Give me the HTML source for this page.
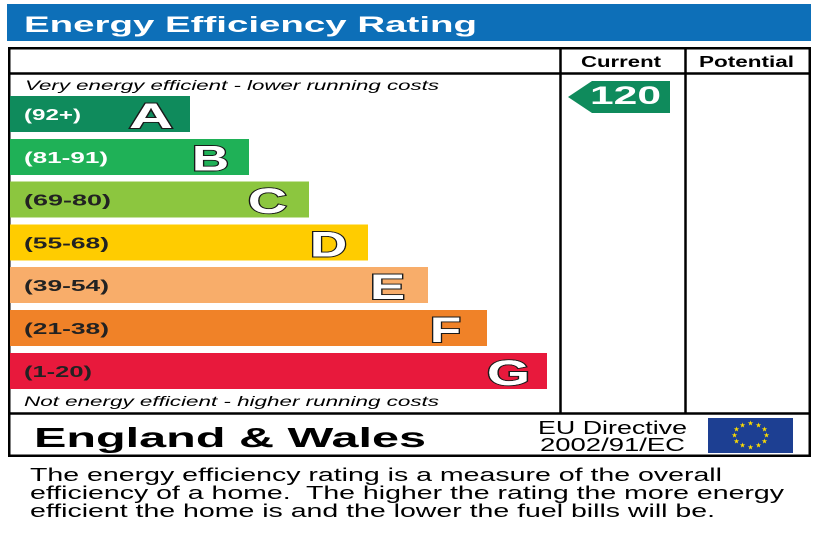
<!DOCTYPE html>
<html><head><meta charset="utf-8"><style>
html,body{margin:0;padding:0;background:#fff;}
svg{display:block;}
text{font-family:"Liberation Sans",Arial,sans-serif;}
</style></head><body>
<svg width="820" height="547" viewBox="0 0 820 547" xmlns="http://www.w3.org/2000/svg">
<rect x="0" y="0" width="820" height="547" fill="#fff"/>
<!-- Title bar -->
<rect x="7" y="4" width="804" height="37" fill="#0d6fb8"/>
<text x="24" y="32" font-size="22" font-weight="bold" fill="#fff" textLength="453" lengthAdjust="spacingAndGlyphs">Energy Efficiency Rating</text>

<!-- Main frame -->
<rect x="9.25" y="48.25" width="800.5" height="407.5" fill="none" stroke="#000" stroke-width="2.5"/>
<line x1="9" y1="73.5" x2="810" y2="73.5" stroke="#000" stroke-width="2.5"/>
<line x1="560.5" y1="48" x2="560.5" y2="413" stroke="#000" stroke-width="2.5"/>
<line x1="685.5" y1="48" x2="685.5" y2="413" stroke="#000" stroke-width="2.5"/>
<line x1="9" y1="413.5" x2="810" y2="413.5" stroke="#000" stroke-width="2.5"/>

<text x="581" y="67" font-size="16" font-weight="bold" fill="#000" textLength="80" lengthAdjust="spacingAndGlyphs">Current</text>
<text x="699" y="67" font-size="16" font-weight="bold" fill="#000" textLength="95" lengthAdjust="spacingAndGlyphs">Potential</text>

<text x="25" y="90" font-size="14" font-style="italic" fill="#000" textLength="414" lengthAdjust="spacingAndGlyphs">Very energy efficient - lower running costs</text>

<!-- Bars -->
<rect x="10" y="96" width="180" height="36" fill="#0f8b5c"/>
<rect x="10" y="139" width="239" height="36" fill="#1fb157"/>
<rect x="10" y="181.5" width="299" height="36" fill="#8cc63f"/>
<rect x="10" y="224.5" width="358" height="36" fill="#ffcc00"/>
<rect x="10" y="267" width="418" height="36" fill="#f8ad6a"/>
<rect x="10" y="310" width="477" height="36" fill="#f08228"/>
<rect x="10" y="353" width="537" height="36" fill="#e8193c"/>

<g font-size="16" font-weight="bold">
<text x="24" y="120" fill="#fff" textLength="57" lengthAdjust="spacingAndGlyphs">(92+)</text>
<text x="24" y="163" fill="#fff" textLength="84" lengthAdjust="spacingAndGlyphs">(81-91)</text>
<text x="24" y="205.5" fill="#222" textLength="87" lengthAdjust="spacingAndGlyphs">(69-80)</text>
<text x="24" y="248.5" fill="#222" textLength="85" lengthAdjust="spacingAndGlyphs">(55-68)</text>
<text x="24" y="291" fill="#222" textLength="85" lengthAdjust="spacingAndGlyphs">(39-54)</text>
<text x="24" y="334" fill="#222" textLength="85" lengthAdjust="spacingAndGlyphs">(21-38)</text>
<text x="24" y="377" fill="#222" textLength="68" lengthAdjust="spacingAndGlyphs">(1-20)</text>
</g>

<g font-size="35" font-weight="bold" fill="#fff" stroke="#1a1a1a" stroke-width="2" paint-order="stroke">
<text x="129" y="128" textLength="44" lengthAdjust="spacingAndGlyphs">A</text>
<text x="192" y="170.5" textLength="37" lengthAdjust="spacingAndGlyphs">B</text>
<text x="248" y="213" textLength="39" lengthAdjust="spacingAndGlyphs">C</text>
<text x="310" y="256.5" textLength="37" lengthAdjust="spacingAndGlyphs">D</text>
<text x="370" y="299" textLength="35" lengthAdjust="spacingAndGlyphs">E</text>
<text x="430" y="342" textLength="31" lengthAdjust="spacingAndGlyphs">F</text>
<text x="487" y="385" textLength="43" lengthAdjust="spacingAndGlyphs">G</text>
</g>
<g font-size="35" font-weight="bold" fill="#fff">
<text x="129" y="128" textLength="44" lengthAdjust="spacingAndGlyphs">A</text>
<text x="192" y="170.5" textLength="37" lengthAdjust="spacingAndGlyphs">B</text>
<text x="248" y="213" textLength="39" lengthAdjust="spacingAndGlyphs">C</text>
<text x="310" y="256.5" textLength="37" lengthAdjust="spacingAndGlyphs">D</text>
<text x="370" y="299" textLength="35" lengthAdjust="spacingAndGlyphs">E</text>
<text x="430" y="342" textLength="31" lengthAdjust="spacingAndGlyphs">F</text>
<text x="487" y="385" textLength="43" lengthAdjust="spacingAndGlyphs">G</text>
</g>

<text x="24" y="406" font-size="14" font-style="italic" fill="#000" textLength="415" lengthAdjust="spacingAndGlyphs">Not energy efficient - higher running costs</text>

<!-- Current arrow -->
<polygon points="568,97 592,81 670,81 670,113 592,113" fill="#0f8b5c"/>
<text x="590" y="104" font-size="25" font-weight="bold" fill="#fff" textLength="71" lengthAdjust="spacingAndGlyphs">120</text>

<!-- Footer row -->
<text x="34" y="447" font-size="28" font-weight="bold" fill="#000" textLength="392" lengthAdjust="spacingAndGlyphs">England &amp; Wales</text>
<text x="538" y="434" font-size="18" fill="#000" textLength="149" lengthAdjust="spacingAndGlyphs">EU Directive</text>
<text x="540" y="451" font-size="18" fill="#000" textLength="145" lengthAdjust="spacingAndGlyphs">2002/91/EC</text>

<rect x="708" y="418" width="85" height="35" fill="#1d3f92"/>
<g fill="#ffdd00" font-size="7" text-anchor="middle">
<text x="750.5" y="425.5">★</text>
<text x="758.5" y="427.5">★</text>
<text x="764.5" y="431.5">★</text>
<text x="766.5" y="437.5">★</text>
<text x="764.5" y="443.5">★</text>
<text x="758.5" y="447.5">★</text>
<text x="750.5" y="449.5">★</text>
<text x="742.5" y="447.5">★</text>
<text x="736.5" y="443.5">★</text>
<text x="734.5" y="437.5">★</text>
<text x="736.5" y="431.5">★</text>
<text x="742.5" y="427.5">★</text>
</g>

<!-- Description -->
<g font-size="18.5" fill="#000">
<text x="30" y="481" textLength="692" lengthAdjust="spacingAndGlyphs">The energy efficiency rating is a measure of the overall</text>
<text x="30" y="499" textLength="754" lengthAdjust="spacingAndGlyphs" xml:space="preserve">efficiency of a home.  The higher the rating the more energy</text>
<text x="30" y="517" textLength="685" lengthAdjust="spacingAndGlyphs">efficient the home is and the lower the fuel bills will be.</text>
</g>
</svg>
</body></html>
